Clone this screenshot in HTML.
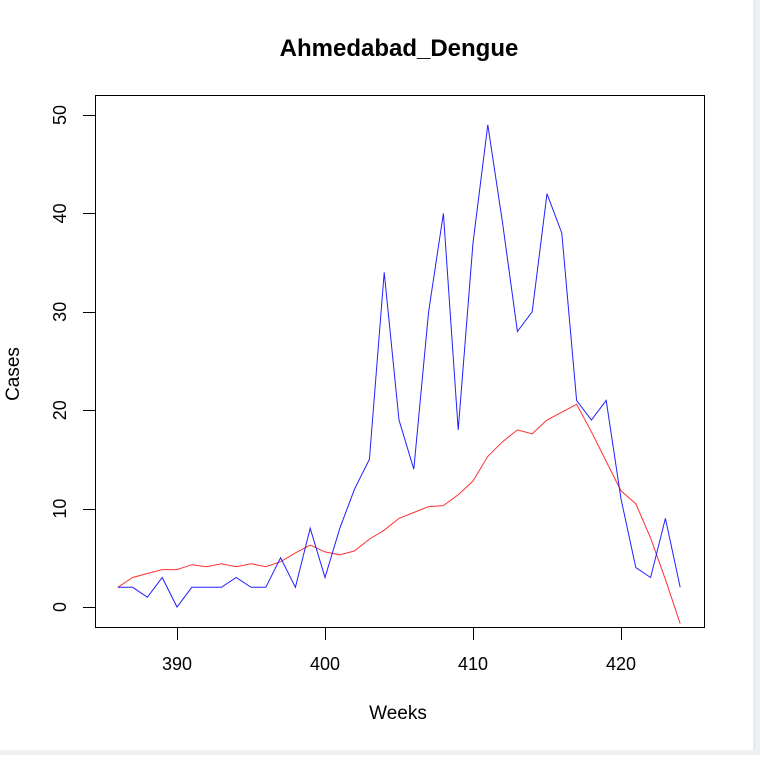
<!DOCTYPE html>
<html><head><meta charset="utf-8"><style>
html,body{margin:0;padding:0;background:#fff;}
body{width:760px;height:755px;position:relative;overflow:hidden;font-family:"Liberation Sans",sans-serif;}
</style></head><body>
<svg width="760" height="755" xmlns="http://www.w3.org/2000/svg" font-family="Liberation Sans, sans-serif">
<rect x="754" y="0" width="6" height="755" fill="#eef0f3"/>
<line x1="754" y1="0" x2="754" y2="750" stroke="#d8dbe0"/>
<rect x="0" y="750" width="760" height="5" fill="#eef0f3"/>
<text x="399" y="56" text-anchor="middle" font-size="24" font-weight="bold">Ahmedabad_Dengue</text>
<text x="398" y="719" text-anchor="middle" font-size="19">Weeks</text>
<text transform="translate(19,374) rotate(-90)" text-anchor="middle" font-size="19">Cases</text>
<rect x="95.5" y="95.5" width="609" height="532" fill="none" stroke="#000"/>
<g id="xt"></g>
<g id="yt"></g>
<polyline id="red" fill="none" stroke="#ff3030" stroke-width="1"/>
<polyline id="blue" fill="none" stroke="#2020ff" stroke-width="1"/>
</svg>
<script>
const weeks=[386,387,388,389,390,391,392,393,394,395,396,397,398,399,400,401,402,403,404,405,406,407,408,409,410,411,412,413,414,415,416,417,418,419,420,421,422,423,424];
const cases=[2,2,1,3,0,2,2,2,3,2,2,5,2,8,3,8,12,15,34,19,14,30,40,18,37,49,39,28,30,42,38,21,19,21,11,4,3,9,2];
const smooth=[2,3,3.4,3.8,3.8,4.3,4.1,4.4,4.1,4.4,4.1,4.6,5.5,6.3,5.6,5.3,5.7,6.9,7.8,9.0,9.6,10.2,10.3,11.4,12.8,15.3,16.8,18,17.6,19,19.8,20.6,17.8,14.8,11.8,10.5,7,2.8,-1.7];
const xTicks=[390,400,410,420];
const yTicks=[0,10,20,30,40,50];
const NS="http://www.w3.org/2000/svg";
const sx=v=>177+(v-390)*(621-177)/30;
const sy=v=>607-v*(607-115)/50;
function pts(a){return weeks.map((w,i)=>sx(w).toFixed(1)+","+sy(a[i]).toFixed(1)).join(" ");}
document.getElementById('blue').setAttribute('points',pts(cases));
document.getElementById('red').setAttribute('points',pts(smooth));
const xt=document.getElementById('xt');
xTicks.forEach(t=>{
 const l=document.createElementNS(NS,'line');
 
 
 const x=Math.round(sx(t))+0.5;
 l.setAttribute('x1',x);l.setAttribute('x2',x);l.setAttribute('y1',627.5);l.setAttribute('y2',640);l.setAttribute('stroke','#000');
 xt.appendChild(l);
 const tx=document.createElementNS(NS,'text');
 
 
 tx.setAttribute('x',sx(t));tx.setAttribute('y',670);tx.setAttribute('text-anchor','middle');tx.setAttribute('font-size','18');
 tx.textContent=t;xt.appendChild(tx);
});
const yt=document.getElementById('yt');
yTicks.forEach(t=>{
 const l=document.createElementNS(NS,'line');
 
 
 const y=Math.round(sy(t))+0.5;
 l.setAttribute('x1',83);l.setAttribute('x2',95.5);l.setAttribute('y1',y);l.setAttribute('y2',y);l.setAttribute('stroke','#000');
 yt.appendChild(l);
 const tx=document.createElementNS(NS,'text');
 
 
 tx.setAttribute('transform','translate(66,'+sy(t)+') rotate(-90)');tx.setAttribute('text-anchor','middle');tx.setAttribute('font-size','18');
 tx.textContent=t;yt.appendChild(tx);
});
</script>
</body></html>
